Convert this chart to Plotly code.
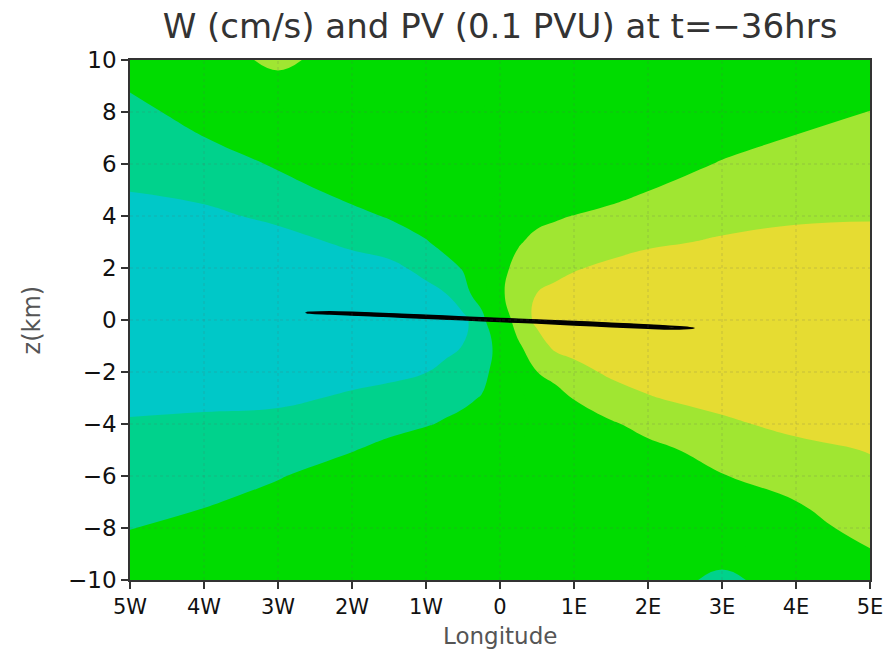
import plotly.graph_objects as go

# ---------------- data ----------------
lon = [-5, -4, -3, -2, -1.5, -1, -0.75, -0.5, -0.25, 0, 0.25, 0.5, 0.75, 1, 1.5, 2, 3, 4, 5]
height_km = [10, 9, 8, 7, 6, 5, 4, 3, 2, 1, 0, -1, -2, -3, -4, -5, -6, -7, -8, -9, -10]

# vertical velocity W (cm/s), one row per height (top row = 10 km)
w_rows = [
    [-0.70, 0.20, 1.38, 0.20, 0.00, -0.10, -0.05, 0.00, 0.00, 0.00, 0.10, 0.15, 0.20, 0.25, 0.30, 0.40, 0.50, 0.60, 0.75],
    [-0.85, -0.30, 0.43, 0.10, 0.00, 0.00, 0.00, 0.00, 0.00, 0.00, 0.10, 0.15, 0.20, 0.30, 0.35, 0.45, 0.60, 0.70, 0.80],
    [-1.45, -0.40, -0.10, 0.00, 0.00, 0.00, 0.00, 0.00, 0.00, 0.05, 0.10, 0.15, 0.20, 0.25, 0.35, 0.45, 0.65, 0.80, 1.01],
    [-1.75, -1.02, -0.50, -0.25, -0.15, -0.10, -0.05, 0.00, 0.00, 0.05, 0.10, 0.15, 0.20, 0.25, 0.30, 0.35, 0.60, 1.04, 1.35],
    [-1.90, -1.45, -0.90, -0.45, -0.30, -0.20, -0.15, -0.10, -0.05, 0.00, 0.05, 0.10, 0.15, 0.20, 0.30, 0.45, 1.08, 1.40, 1.65],
    [-1.98, -1.70, -1.30, -0.75, -0.55, -0.40, -0.30, -0.20, -0.10, 0.00, 0.10, 0.20, 0.30, 0.40, 0.60, 0.98, 1.40, 1.70, 1.90],
    [-2.30, -2.25, -1.76, -1.20, -0.94, -0.52, -0.33, -0.14, 0.05, 0.25, 0.44, 0.80, 0.92, 1.02, 1.30, 1.50, 1.70, 1.82, 1.88],
    [-2.55, -2.50, -2.40, -1.79, -1.43, -1.06, -0.73, -0.32, 0.10, 0.52, 0.93, 1.20, 1.30, 1.40, 1.60, 1.85, 2.10, 2.35, 2.45],
    [-2.70, -2.65, -2.60, -2.45, -2.30, -1.67, -1.32, -0.94, -0.13, 0.75, 1.25, 1.45, 1.66, 1.92, 2.20, 2.40, 2.55, 2.60, 2.65],
    [-2.75, -2.75, -2.70, -2.60, -2.50, -2.35, -2.05, -1.39, -0.47, 0.84, 1.47, 2.02, 2.30, 2.45, 2.60, 2.70, 2.75, 2.75, 2.75],
    [-2.80, -2.80, -2.80, -2.75, -2.70, -2.60, -2.50, -2.25, -1.36, 0.30, 1.45, 2.20, 2.50, 2.60, 2.70, 2.75, 2.80, 2.80, 2.80],
    [-2.75, -2.75, -2.75, -2.70, -2.60, -2.50, -2.30, -1.98, -1.44, -0.69, 0.875, 1.60, 2.20, 2.40, 2.55, 2.65, 2.70, 2.75, 2.75],
    [-2.70, -2.65, -2.60, -2.45, -2.30, -2.02, -1.74, -1.47, -1.19, -0.72, 0.14, 0.99, 1.31, 1.62, 2.20, 2.40, 2.55, 2.60, 2.65],
    [-2.40, -2.35, -2.28, -1.81, -1.58, -1.34, -1.23, -1.11, -0.97, -0.56, -0.15, 0.26, 0.67, 1.04, 1.45, 1.93, 2.40, 2.50, 2.55],
    [-1.85, -1.70, -1.55, -1.35, -1.22, -1.05, -0.94, -0.85, -0.60, -0.35, -0.12, 0.11, 0.31, 0.52, 0.92, 1.22, 1.78, 2.33, 2.45],
    [-1.60, -1.45, -1.28, -1.03, -0.80, -0.57, -0.45, -0.34, -0.22, -0.11, 0.01, 0.12, 0.24, 0.35, 0.58, 0.82, 1.25, 1.65, 2.06],
    [-1.50, -1.30, -1.04, -0.70, -0.54, -0.37, -0.29, -0.20, -0.12, -0.03, 0.05, 0.13, 0.22, 0.30, 0.47, 0.63, 0.97, 1.35, 1.70],
    [-1.35, -1.06, -0.80, -0.55, -0.42, -0.29, -0.22, -0.16, -0.09, -0.03, 0.03, 0.10, 0.16, 0.23, 0.35, 0.48, 0.74, 0.99, 1.30],
    [-1.01, -0.80, -0.60, -0.42, -0.33, -0.25, -0.20, -0.16, -0.12, -0.08, -0.03, 0.02, 0.07, 0.12, 0.22, 0.33, 0.55, 0.80, 1.18],
    [-0.85, -0.65, -0.50, -0.35, -0.28, -0.20, -0.17, -0.13, -0.10, -0.06, -0.03, 0.00, 0.03, 0.06, 0.10, 0.00, -0.43, 0.30, 0.95],
    [-0.75, -0.55, -0.40, -0.30, -0.25, -0.20, -0.15, -0.12, -0.10, -0.05, -0.02, 0.00, 0.02, 0.05, 0.10, -0.20, -1.38, -0.20, 0.80],
]

# PV contour loops (thin elongated closed curves), lon / height in km
pv_outer_lon = [-2.62, -2.3, -2.0, -1.5, -1.0, -0.5, 0.0, 0.5, 1.0, 1.5, 2.0, 2.3, 2.62,
                2.3, 2.0, 1.5, 1.0, 0.5, 0.0, -0.5, -1.0, -1.5, -2.0, -2.3, -2.62]
pv_outer_z = [0.28, 0.31, 0.29, 0.23, 0.17, 0.11, 0.05, -0.01, -0.07, -0.13, -0.20, -0.25, -0.31,
              -0.34, -0.31, -0.25, -0.18, -0.11, -0.05, 0.02, 0.08, 0.14, 0.20, 0.24, 0.28]
pv_inner_lon = [-2.2, -2.0, -1.5, -1.0, -0.5, 0.0, 0.5, 1.0, 1.5, 2.0, 2.3,
                2.0, 1.5, 1.0, 0.5, 0.0, -0.5, -1.0, -1.5, -2.0, -2.2]
pv_inner_z = [0.27, 0.27, 0.21, 0.15, 0.09, 0.03, -0.03, -0.09, -0.15, -0.22, -0.28,
              -0.27, -0.22, -0.15, -0.08, -0.02, 0.04, 0.10, 0.16, 0.22, 0.27]

x_ticks = [-5, -4, -3, -2, -1, 0, 1, 2, 3, 4, 5]
x_ticktext = ["5W", "4W", "3W", "2W", "1W", "0", "1E", "2E", "3E", "4E", "5E"]
y_ticks = [-10, -8, -6, -4, -2, 0, 2, 4, 6, 8, 10]

# GrADS default rainbow shades
c_cyan = "rgb(0,200,200)"
c_teal = "rgb(0,210,140)"
c_green = "rgb(0,220,0)"
c_lgreen = "rgb(160,230,50)"
c_yellow = "rgb(230,220,50)"

colorscale = [
    [0.0, c_cyan], [0.15, c_cyan],
    [0.15, c_teal], [0.33, c_teal],
    [0.33, c_green], [0.67, c_green],
    [0.67, c_lgreen], [0.85, c_lgreen],
    [0.85, c_yellow], [1.0, c_yellow],
]

y_asc = height_km[::-1]
z_asc = w_rows[::-1]

fig = go.Figure()
fig.add_trace(go.Contour(
    x=lon, y=y_asc, z=z_asc,
    colorscale=colorscale, zmin=-3, zmax=3,
    contours=dict(coloring="fill", start=-2, end=2, size=1),
    line=dict(width=0, smoothing=1.3),
    showscale=False, hoverinfo="skip",
))
for lx, lz in [(pv_outer_lon, pv_outer_z), (pv_inner_lon, pv_inner_z)]:
    fig.add_trace(go.Scatter(
        x=lx, y=lz, mode="lines",
        line=dict(color="black", width=2, shape="spline", smoothing=0.6),
        showlegend=False, hoverinfo="skip",
    ))

FONT = "DejaVu Sans, Liberation Sans, sans-serif"

shapes = []
for xv in x_ticks[1:-1]:
    shapes.append(dict(type="line", xref="x", yref="paper", x0=xv, x1=xv, y0=0, y1=1,
                       line=dict(color="rgba(90,90,90,0.22)", width=1, dash="dot"), layer="above"))
for yv in y_ticks[1:-1]:
    shapes.append(dict(type="line", xref="paper", yref="y", x0=0, x1=1, y0=yv, y1=yv,
                       line=dict(color="rgba(90,90,90,0.22)", width=1, dash="dot"), layer="above"))

fig.update_layout(
    width=895, height=653,
    margin=dict(l=130, r=22, t=60, b=73),
    paper_bgcolor="white", plot_bgcolor="white",
    showlegend=False,
    shapes=shapes,
    title=dict(text="W (cm/s) and PV (0.1 PVU) at t=\u221236hrs",
               x=0.5, xref="paper", xanchor="center",
               y=1 - 26 / 653, yref="container", yanchor="middle",
               font=dict(family=FONT, size=34, color="#333333")),
    annotations=[
        dict(text="Longitude", xref="paper", yref="paper", x=0.5, y=-56 / 520,
             xanchor="center", yanchor="middle", showarrow=False,
             font=dict(family=FONT, size=23, color="#555555")),
        dict(text="z(km)", xref="paper", yref="paper", x=(32 - 130) / 743, y=0.5,
             xanchor="center", yanchor="middle", textangle=-90, showarrow=False,
             font=dict(family=FONT, size=24, color="#555555")),
    ],
)
fig.update_xaxes(
    range=[-5, 5], tickvals=x_ticks, ticktext=x_ticktext,
    ticks="outside", ticklen=7, tickwidth=1.5, tickcolor="#333333",
    showline=True, linecolor="#333333", linewidth=1.5, mirror=True,
    showgrid=False, zeroline=False,
    tickfont=dict(family=FONT, size=21, color="#111111"),
)
fig.update_yaxes(
    range=[-10, 10], tickvals=y_ticks,
    ticks="outside", ticklen=7, tickwidth=1.5, tickcolor="#333333",
    showline=True, linecolor="#333333", linewidth=1.5, mirror=True,
    showgrid=False, zeroline=False,
    tickfont=dict(family=FONT, size=23, color="#111111"),
)

fig.write_html("out.html")
